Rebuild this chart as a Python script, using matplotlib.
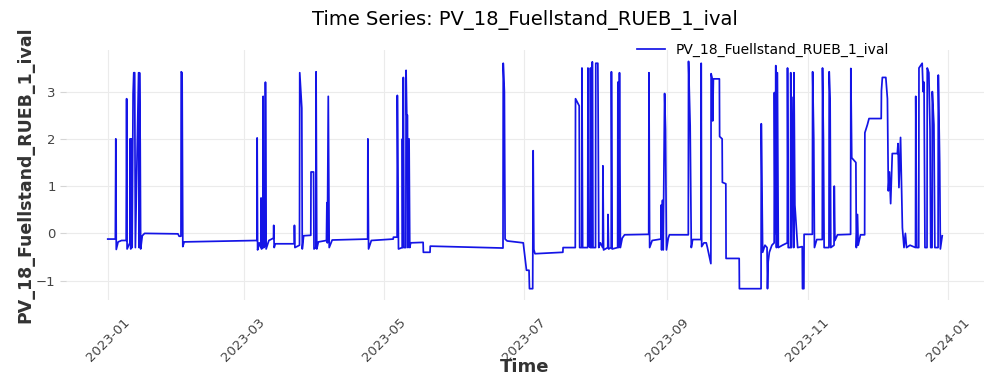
import numpy as np
import pandas as pd
import matplotlib
matplotlib.use("Agg")
import matplotlib.pyplot as plt
import matplotlib.dates as mdates

# days since 2023-01-01 and level values
jan_days = [0, 3.3, 3.5, 3.7, 4.5, 6, 8.0, 8.2, 8.4, 9.6, 9.7, 10.0, 10.3, 10.6, 11.0, 11.3, 11.7, 12.0,
            13.4, 13.6, 13.8, 14.1, 14.3, 15.0, 16, 30.5, 31.0, 31.8, 31.9, 32.3, 32.6, 33.2]
jan_vals = [-0.12, -0.12, 2.0, -0.34, -0.18, -0.15, -0.15, 2.85, -0.33, -0.2, 2.0, -0.33, 2.0, -0.3, 2.95, 3.4, 3.4, -0.3,
            3.4, -0.3, 3.4, 1.9, -0.33, -0.05, 0.0, -0.01, -0.06, -0.06, 3.42, 3.4, -0.28, -0.18]

mar_days = [64.8, 64.9, 65.1, 65.8, 66.5, 66.6, 66.8, 67.4, 67.5, 67.8, 68.4, 68.5, 68.8, 70, 72.0, 72.1, 72.3,
            72.8, 81.0, 81.1, 81.3, 83.3, 83.4, 84.3, 84.5, 85.1, 88.2, 88.3, 89.4, 89.6, 90.4, 90.5, 90.8,
            91.5, 95.0, 95.2, 95.4, 95.8, 96.2, 97.5, 112.9, 113.0, 113.3, 114.5]
mar_vals = [-0.15, 2.02, -0.35, -0.2, -0.3, 0.75, -0.33, -0.3, 2.9, -0.3, -0.25, 3.2, -0.33, -0.15, -0.1, 0.17, -0.3,
            -0.22, -0.22, 0.17, -0.3, -0.25, 3.4, 2.65, -0.33, -0.05, -0.04, 1.3, 1.3, -0.33, -0.3, 3.42, -0.33,
            -0.18, -0.15, 0.65, -0.2, 2.9, -0.3, -0.14, -0.12, 2.0, -0.33, -0.15]

may_days = [124.0, 124.1, 125.7, 125.8, 126.3, 127.9, 128.0, 128.2, 128.4, 128.7, 129.5, 129.6, 129.9, 130.2,
            130.4, 130.9, 131.2, 131.6, 137.0, 137.1, 140.0, 140.1, 171.0, 171.7, 171.8, 172.3, 172.6, 173.5,
            180.5, 181.9, 183.0, 183.2, 184.6, 184.8, 185.1, 185.6, 197.7, 197.8, 203.1]
may_vals = [-0.12, -0.08, -0.08, 2.92, -0.33, -0.3, 2.0, -0.3, 3.3, -0.3, -0.3, 3.45, 2.5, 2.5,
            -0.3, 2.0, -0.3, -0.2, -0.19, -0.4, -0.4, -0.27, -0.31, -0.31, 3.6, 3.0, -0.12, -0.16,
            -0.2, -0.78, -0.78, -1.17, -1.17, 1.75, -0.34, -0.43, -0.4, -0.3, -0.3]

aug_days = [203.2, 204.8, 205.0, 205.9, 206.0, 206.3, 208.5, 208.6, 208.9, 209.6, 209.7, 210.0, 210.4, 210.5,
            210.8, 211.9, 212.0, 212.9, 213.0, 213.3, 214.0, 215.0, 215.1, 215.4, 217.2, 217.3, 217.6, 218.7,
            218.8, 219.1, 221.5, 221.6, 222.0, 222.3, 222.7, 223.5, 224.5, 235.0, 235.1, 235.4, 236.5, 240.3,
            240.4, 240.6, 241.0, 241.3, 241.9, 242.3, 242.7, 243.5, 244.0]
aug_vals = [2.85, 2.7, -0.3, -0.3, 3.5, -0.3, -0.3, 3.5, -0.25, -0.3, 3.5, -0.3, -0.3, 3.63,
            -0.3, -0.3, 3.6, 3.6, 2.85, -0.3, -0.2, -0.3, 1.43, -0.35, -0.3, 0.4, -0.33, -0.3,
            3.42, -0.33, -0.3, 3.2, -0.3, 3.4, -0.3, -0.1, -0.03, -0.02, 3.4, -0.3, -0.15, -0.12,
            0.6, -0.35, 0.7, -0.35, 2.96, 2.2, -0.35, -0.1, -0.03]

oct_days = [252.2, 252.3, 253.0, 253.3, 253.5, 254.1, 257.7, 257.8, 258.0, 259.0, 260.0, 260.5, 261.4, 262.0,
            262.1, 262.5, 262.8, 263.1, 265.7, 265.8, 266.9, 267.0, 268.5, 268.6, 274.3, 274.4, 283.8, 283.9,
            284.2, 284.5, 285.5, 286.4, 286.6, 286.9, 287.4, 288.5, 289.5, 289.6, 289.9, 290.2, 290.5, 290.9,
            291.3, 293.1, 295.2, 295.3, 295.6, 296.6, 296.7, 297.0, 297.7, 298.0, 298.1, 298.5, 299.7, 301.7,
            301.8, 302.4, 302.5]
oct_vals = [-0.03, 3.64, 2.28, 0.66, -0.3, -0.13, -0.13, 3.6, -0.28, -0.2, -0.2, -0.3, -0.5, -0.64,
            3.38, 3.3, 2.38, 3.27, 3.27, 2.05, 2.0, 1.08, 1.05, -0.53, -0.53, -1.17, -1.17, 2.32,
            0.9, -0.4, -0.25, -0.3, -1.17, -0.6, -0.4, -0.25, -0.2, 2.98, 0.0, 3.55, -0.3, 3.4,
            -0.3, -0.25, -0.2, 3.5, -0.3, -0.3, 3.4, -0.3, 2.88, -0.3, 3.4, 0.6, -0.3, -0.28,
            -1.17, -1.17, -0.02]

nov_days = [306.1, 306.2, 306.7, 307.0, 308.0, 310.4, 310.5, 310.9, 311.2, 313.3, 313.4, 313.8, 314.1, 315.5,
            315.6, 315.9, 317, 322.7, 322.8, 323.2, 325.0, 325.2, 325.7, 326.0, 327.0, 328.8, 328.9, 330.0,
            330.7, 336.0, 336.1, 336.5, 338.0, 338.7, 339.1, 339.6, 340.1, 340.8, 343.0, 343.3, 343.7, 344.4,
            345.2, 345.9, 346.5, 347.0, 348.5]
nov_vals = [-0.02, 3.42, 2.0, -0.3, -0.13, -0.13, 3.5, 2.0, -0.3, -0.3, 3.42, 2.85, -0.3, -0.25,
            1.0, -0.15, -0.03, -0.02, 3.49, 1.6, 1.5, -0.3, 0.4, -0.25, -0.03, -0.03, 2.13, 2.3,
            2.43, 2.43, 3.02, 3.3, 3.3, 2.85, 0.9, 1.3, 0.63, 1.69, 1.69, 1.9, 0.97, 2.03,
            0.12, -0.3, 0.0, -0.3, -0.25]

dec_days = [350.9, 351.0, 351.4, 352.3, 352.4, 353.8, 354.2, 354.6, 355.0, 355.9, 356.0, 356.7, 357.2, 357.5,
            358.1, 358.2, 358.9, 359.3, 360.7, 360.8, 361.4, 361.7, 362.5]
dec_vals = [-0.3, 2.9, -0.3, -0.3, 3.5, 3.6, 3.0, 3.2, -0.3, -0.3, 3.5, 3.4, 2.2, -0.3,
            -0.3, 3.0, 2.3, -0.3, -0.3, 3.35, 1.5, -0.33, -0.05]

series_name = "PV_18_Fuellstand_RUEB_1_ival"

days = jan_days + mar_days + may_days + aug_days + oct_days + nov_days + dec_days
vals = jan_vals + mar_vals + may_vals + aug_vals + oct_vals + nov_vals + dec_vals
times = pd.Timestamp("2023-01-01") + pd.to_timedelta(days, unit="D")

fig = plt.figure(figsize=(9.87, 3.76), dpi=100)
ax = fig.add_axes([0.0669, 0.202, 0.930, 0.665])

ax.plot(times, vals, color="#1414e6", lw=1.25, label=series_name)

for s in ax.spines.values():
    s.set_visible(False)
ax.grid(True, color="#ebebeb", lw=0.8)
ax.set_axisbelow(True)
ax.tick_params(colors="#d5d5d5", labelcolor="#444444", labelsize=9.5, length=4, width=0.8)
ax.tick_params(axis="x", length=0, pad=11)

ax.xaxis.set_major_locator(mdates.MonthLocator(bymonth=[1, 3, 5, 7, 9, 11]))
ax.xaxis.set_major_formatter(mdates.DateFormatter("%Y-%m"))
ax.set_yticks([-1, 0, 1, 2, 3])
plt.setp(ax.get_xticklabels(), rotation=45, ha="center")

ax.set_xlabel("Time", fontsize=13, fontweight="bold", color="#333333", labelpad=-4)
ax.set_ylabel(series_name, fontsize=12.5, fontweight="bold", color="#333333", labelpad=1)
ax.set_title("Time Series: " + series_name, fontsize=14, pad=18)

ax.legend(loc="center right", bbox_to_anchor=(0.903, 1.0), frameon=False, fontsize=10,
          handlelength=2.0, borderaxespad=0)

fig.savefig("out.png", dpi=100)
